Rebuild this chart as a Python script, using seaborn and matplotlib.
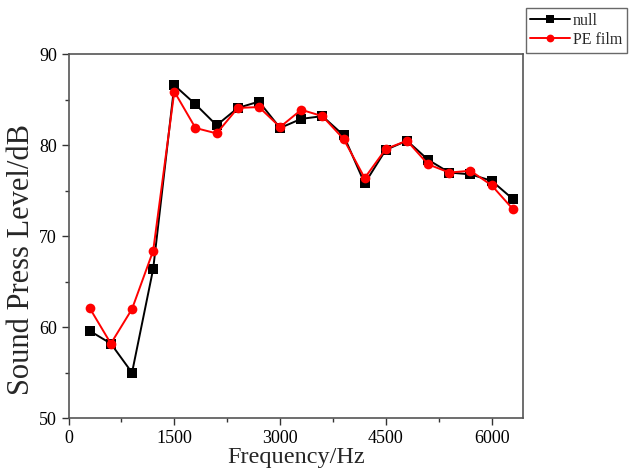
import pandas as pd
import numpy as np
import matplotlib.pyplot as plt
from matplotlib.ticker import MultipleLocator, AutoMinorLocator
import seaborn as sns

freq = [300, 600, 900, 1200, 1500, 1800, 2100, 2400, 2700, 3000, 3300,
        3600, 3900, 4200, 4500, 4800, 5100, 5400, 5700, 6000, 6300]
null_spl = [59.6, 58.2, 55.0, 66.4, 86.6, 84.5, 82.2, 84.1, 84.8, 81.9, 82.9,
            83.2, 81.1, 75.8, 79.5, 80.5, 78.4, 77.0, 76.8, 76.1, 74.1]
pe_spl = [62.1, 58.2, 62.0, 68.4, 85.9, 81.9, 81.3, 84.1, 84.2, 82.0, 83.9,
          83.2, 80.7, 76.4, 79.6, 80.5, 77.9, 77.0, 77.2, 75.6, 73.0]
series = ["null", "PE film"]

df = pd.DataFrame({
    "freq": freq * 2,
    "spl": null_spl + pe_spl,
    "sample": [series[0]] * len(freq) + [series[1]] * len(freq),
})

sns.set_style("ticks")
plt.rcParams['font.family'] = ['Liberation Serif', 'DejaVu Serif']

fig = plt.figure(figsize=(6.29, 4.72), dpi=100)
ax = fig.add_axes([0.109, 0.114, 0.723, 0.771])

sns.lineplot(data=df, x="freq", y="spl", hue="sample", style="sample",
             palette={"null": "black", "PE film": "red"},
             markers={"null": "s", "PE film": "o"}, dashes=False,
             markersize=7, markeredgewidth=0, linewidth=1.4, ax=ax)

ax.set_xlim(0, 6450)
ax.set_ylim(50, 90)
ax.xaxis.set_major_locator(MultipleLocator(1500))
ax.yaxis.set_major_locator(MultipleLocator(10))
ax.xaxis.set_minor_locator(AutoMinorLocator(2))
ax.yaxis.set_minor_locator(AutoMinorLocator(2))
ax.tick_params(which="major", direction="out", length=5, width=1, labelsize=13,
               colors="#333333", labelcolor="black")
ax.tick_params(which="minor", direction="out", length=3, width=1, colors="#333333")
for s in ax.spines.values():
    s.set_color("#555555")
    s.set_linewidth(1.2)

ax.set_xlabel("Frequency/Hz", fontsize=17.5, labelpad=0)
ax.set_ylabel("Sound Press Level/dB", fontsize=22)
ax.yaxis.set_label_coords(-0.071, 0.437)

leg = ax.legend(loc="upper left", bbox_to_anchor=(1.005, 1.127), fontsize=11.5,
                frameon=True, fancybox=False, borderpad=0.3, labelspacing=0.2,
                handlelength=2.5, handletextpad=0.15, borderaxespad=0,
                markerscale=0.8)
leg.get_frame().set_edgecolor("#444444")
leg.get_frame().set_linewidth(1.0)

fig.savefig("out.png", dpi=100)
